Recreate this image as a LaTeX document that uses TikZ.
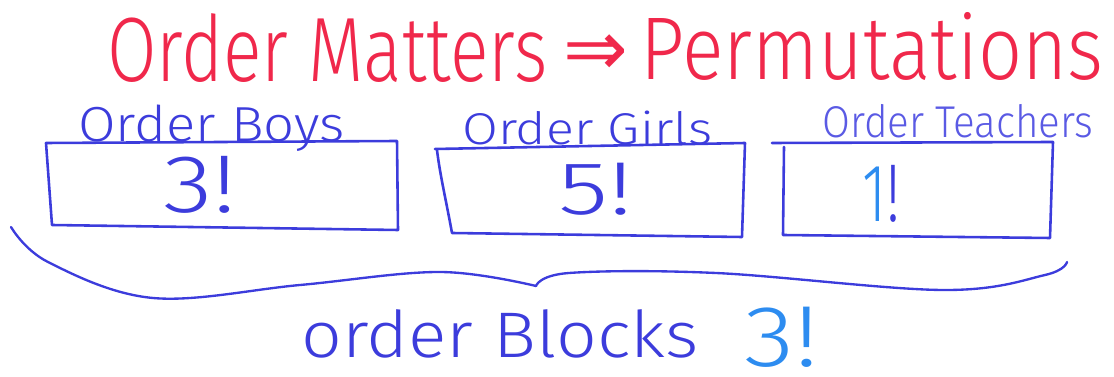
\documentclass[tikz,border=0pt]{standalone}
\usepackage{fontspec}
\setmainfont{Fira Sans Light}
\newfontfamily\arrowfont{DejaVu Sans}
\usepackage{graphicx}
\definecolor{pred}{RGB}{240,40,75}
\definecolor{pblue}{RGB}{60,60,220}
\definecolor{tblue}{RGB}{90,90,228}
\definecolor{lblue}{RGB}{45,140,240}
\newcommand\hw[2]{\resizebox{#1}{\height}{#2}}
\begin{document}
\begin{tikzpicture}[x=0.03cm,y=-0.03cm,
  txt/.style={inner sep=0pt, anchor=base west},
  ink/.style={draw=pblue, line width=2.2pt, line join=round, line cap=round}]
\useasboundingbox (0,0) rectangle (1114,377);
% title
\node[txt, text=pred, font=\fontsize{78}{80}\selectfont] (t1) at (107,82) {\hw{13.2cm}{Order Matters}};
\node[txt, text=pred, font=\arrowfont\fontsize{66}{70}\selectfont] (t2) at (563,76) {⇒};
\node[txt, text=pred, font=\fontsize{76}{80}\selectfont] (t3) at (640,80) {\hw{13.89cm}{Permutations}};
% labels
\node[txt, text=pblue, font=\fontsize{42}{46}\selectfont] (l1) at (78,142) {\hw{8.0cm}{Order Boys}};
\node[txt, text=pblue, font=\fontsize{38}{40}\selectfont] (l2) at (462,145) {\hw{7.5cm}{Order Girls}};
\node[txt, text=tblue, font=\fontsize{38}{40}\selectfont] (l3) at (822,138) {\hw{8.13cm}{Order Teachers}};
% boxes
\draw[ink] (46,143) -- (397,141) -- (398,230) -- (52,225) -- cycle;
\draw[ink] (435,149) -- (745,143) -- (742,237) -- (452,233) .. controls (446,200) and (440,175) .. (437,150);
\draw[ink] (772,143) -- (1053,142) -- (1050,238) -- (783,235) -- (784,147);
% numbers
\node[txt, text=pblue, font=\fontsize{70}{72}\selectfont] (n1) at (163,213) {\hw{2.22cm}{3!}};
\node[txt, text=pblue, font=\fontsize{64}{66}\selectfont] (n2) at (558,215) {\hw{2.25cm}{5!}};
\node[txt, text=pblue, font=\fontsize{70}{72}\selectfont] (n3) at (862,222) {\hw{1.14cm}{{\color{lblue}1}!}};
% brace
\draw[ink, line width=2pt] plot[smooth, tension=0.6] coordinates {(11,227) (48,262) (153,298) (300,285) (440,272) (536,286)};
\draw[ink, line width=2pt] plot[smooth, tension=0.6] coordinates {(536,286) (569,273) (716,273) (943,290) (1045,275) (1067,262)};
% bottom text
\node[txt, text=pblue, font=\fontsize{55}{58}\selectfont] (b1) at (301,358) {\hw{11.91cm}{order Blocks}};
\node[txt, text=lblue, font=\fontsize{74}{78}\selectfont] (b2) at (744,367) {\hw{2.25cm}{3!}};
\end{tikzpicture}
\end{document}
